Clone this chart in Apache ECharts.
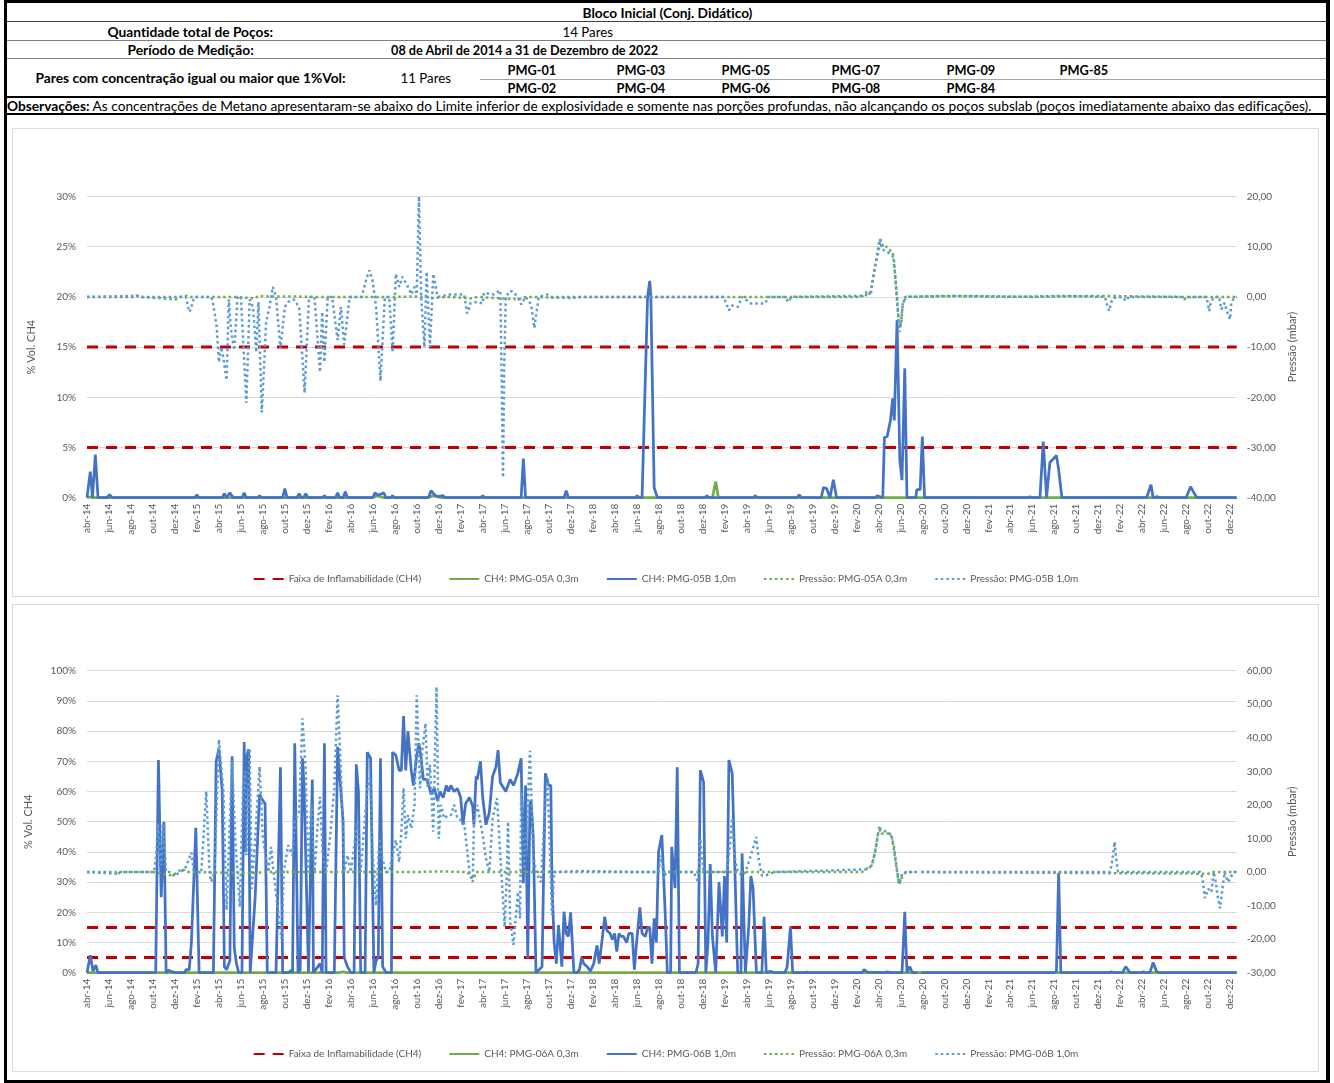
<!DOCTYPE html>
<html><head><meta charset="utf-8">
<script src="https://cdn.jsdelivr.net/npm/echarts@6/dist/echarts.min.js"></script>
<style>
html,body{margin:0;padding:0;background:#fff;}
body{position:relative;width:1334px;height:1083px;overflow:hidden;font-family:Lato,"Liberation Sans",sans-serif;}
.frame{position:absolute;left:4px;top:0;width:1326px;height:1083px;border:3px solid #000;border-right-width:4px;box-sizing:border-box;}
.t{position:absolute;white-space:nowrap;font-size:13px;line-height:16px;color:#000;transform-origin:50% 50%;font-variant-ligatures:none;}
.hl{position:absolute;height:0;}
.box{position:absolute;border:1px solid #d9d9d9;box-sizing:border-box;background:#fff;}
</style>
</head><body>
<div class="frame"></div>
<div class="hl" style="left:7px;width:1319px;top:21px;border-top:1px solid #404040"></div>
<div class="hl" style="left:7px;width:1319px;top:40px;border-top:1px solid #808080"></div>
<div class="hl" style="left:7px;width:1319px;top:58px;border-top:1px solid #808080"></div>
<div class="hl" style="left:480px;width:846px;top:79px;border-top:1px solid #a6a6a6"></div>
<div class="hl" style="left:7px;width:1319px;top:96px;border-top:2px solid #000"></div>
<div class="hl" style="left:7px;width:1319px;top:113px;border-top:2px solid #000"></div>
<div id="c1" class="box" style="left:12px;top:128px;width:1307px;height:469px"></div>
<div id="c2" class="box" style="left:12px;top:604px;width:1307px;height:468px"></div>
<script>
// ---------- header texts ----------
const headerItems = [
  {t:'Bloco Inicial (Conj. Didático)', cx:667, cy:13, w:170, b:true},
  {t:'Quantidade total de Poços:', cx:190, cy:31.5, w:166, b:true},
  {t:'14 Pares', cx:587, cy:31.5, w:50, b:false},
  {t:'Período de Medição:', cx:190, cy:49.5, w:126, b:true},
  {t:'08 de Abril de 2014 a 31 de Dezembro de 2022', cx:524.5, cy:49.5, w:267, b:true},
  {t:'Pares com concentração igual ou maior que 1%Vol:', cx:190, cy:78, w:310, b:true},
  {t:'11 Pares', cx:425, cy:78, w:50, b:false},
  {t:'PMG-01', cx:532, cy:70, w:49, b:true},
  {t:'PMG-03', cx:641, cy:70, w:49, b:true},
  {t:'PMG-05', cx:746, cy:70, w:49, b:true},
  {t:'PMG-07', cx:856, cy:70, w:49, b:true},
  {t:'PMG-09', cx:971, cy:70, w:49, b:true},
  {t:'PMG-85', cx:1084, cy:70, w:49, b:true},
  {t:'PMG-02', cx:532, cy:88, w:49, b:true},
  {t:'PMG-04', cx:641, cy:88, w:49, b:true},
  {t:'PMG-06', cx:746, cy:88, w:49, b:true},
  {t:'PMG-08', cx:856, cy:88, w:49, b:true},
  {t:'PMG-84', cx:971, cy:88, w:49, b:true}
];
const obsLabel = 'Observações:';
const obsText = ' As concentrações de Metano apresentaram-se abaixo do Limite inferior de explosividade e somente nas porções profundas, não alcançando os poços subslab (poços imediatamente abaixo das edificações).';

function place(el, cx, cy, w, leftAlign){
  document.body.appendChild(el);
  const w0 = el.offsetWidth, h0 = el.offsetHeight;
  const s = w / w0;
  el.style.top = (cy - h0/2) + 'px';
  if (leftAlign){ el.style.left = cx + 'px'; el.style.transformOrigin = '0 50%'; }
  else { el.style.left = (cx - w0/2) + 'px'; }
  el.style.transform = 'scaleX(' + s + ')';
}
headerItems.forEach(o => {
  const el = document.createElement('div');
  el.className = 't';
  el.textContent = o.t;
  el.style.fontWeight = o.b ? '700' : '400';
  place(el, o.cx, o.cy, o.w, false);
});
(function(){
  const el = document.createElement('div');
  el.className = 't';
  const b = document.createElement('b'); b.textContent = obsLabel;
  el.appendChild(b);
  el.appendChild(document.createTextNode(obsText));
  place(el, 7, 106, 1305, true);
})();

// ---------- chart data ----------
const tickLabels = ['abr-14','jun-14','ago-14','out-14','dez-14',
 'fev-15','abr-15','jun-15','ago-15','out-15','dez-15',
 'fev-16','abr-16','jun-16','ago-16','out-16','dez-16',
 'fev-17','abr-17','jun-17','ago-17','out-17','dez-17',
 'fev-18','abr-18','jun-18','ago-18','out-18','dez-18',
 'fev-19','abr-19','jun-19','ago-19','out-19','dez-19',
 'fev-20','abr-20','jun-20','ago-20','out-20','dez-20',
 'fev-21','abr-21','jun-21','ago-21','out-21','dez-21',
 'fev-22','abr-22','jun-22','ago-22','out-22','dez-22'];
// x = months since abr-2014
const flammabilityLimits = [5, 15];

// ---- Chart 1: PMG-05 ----
const ch4_05A = [[0,0],[0.3,0.1],[0.5,0],[26.0,0],[26.4,0.2],[27.0,0],[31.0,0],[31.5,0.2],[32.3,0],[56.9,0],[57.2,1.6],[57.45,0],[104.6,0]];
const ch4_05B = [[0,0],[0.3,2.6],[0.5,0],[0.76,4.3],[1.0,0],[1.8,0],[2.06,0.3],[2.3,0],
 [9.8,0],[10.0,0.3],[10.2,0],[12.3,0],[12.5,0.4],[12.7,0],[13.0,0.5],[13.3,0],
 [14.1,0],[14.3,0.5],[14.5,0],[15.5,0],[15.7,0.2],[15.9,0],[17.8,0],[18.0,0.9],[18.2,0],
 [19.1,0],[19.3,0.4],[19.5,0],[19.7,0],[19.9,0.4],[20.1,0],[21.4,0],[21.6,0.2],[21.8,0],
 [22.6,0],[22.8,0.5],[23.0,0],[23.3,0],[23.5,0.6],[23.7,0],[26.0,0],[26.2,0.5],[26.4,0.3],
 [26.6,0.3],[27.0,0.5],[27.2,0],[27.6,0],[27.8,0.2],[28.0,0],[30.9,0],[31.1,0.1],[31.3,0.7],
 [31.6,0.3],[31.9,0.1],[32.4,0.2],[32.6,0],[35.8,0],[36.0,0.2],[36.2,0],[39.5,0],[39.7,3.9],
 [39.9,0],[43.4,0],[43.6,0.7],[43.8,0],[49.9,0],[50.06,0.2],[50.2,0],[50.5,0],[51.0,20],
 [51.2,21.6],[51.3,20],[51.6,1],[51.9,0],[56.2,0],[56.4,0.2],[56.6,0],[60.6,0],[60.8,0.2],
 [61.0,0],[64.6,0],[64.8,0.3],[65.0,0],[66.8,0],[67.0,1.0],[67.3,0.9],[67.6,0],[67.9,1.8],
 [68.2,0],[71.7,0],[71.9,0.2],[72.4,0],[72.55,6.0],[72.8,6.1],[73.1,7.7],[73.3,9.9],
 [73.45,7.7],[73.7,17.7],[73.95,3.7],[74.15,1.75],[74.4,12.9],[74.6,0],[75.4,0],[75.5,0.8],
 [75.8,0.8],[76.0,6.1],[76.2,0],[85.6,0],[85.8,0.1],[86.0,0],[86.7,0],[87.0,5.6],[87.3,0],
 [87.6,3.5],[88.2,4.2],[88.4,2.8],[88.7,0],[96.4,0],[96.8,1.3],[97.0,0],[97.4,0.1],[97.6,0],
 [100.0,0],[100.4,1.1],[100.7,0.5],[100.8,0.6],[101.0,0],[104.6,0]];
const press_05A = [[0,0],[4.5,0.2],[5,0],[8.1,-0.5],[8.5,0],[8.9,0.3],[9.3,0],[13.5,0],
 [15.3,-0.3],[15.6,0.2],[16.4,0.1],[18.5,0.1],[20.5,0],[28,0],[30.3,0.1],[31.5,-0.2],[33,0],
 [34.9,-0.3],[35.5,0],[39.3,-0.5],[39.9,0],[44,-0.2],[45,0],[63.5,0],[63.8,-1],[64.1,0],
 [70.4,0.2],[71.0,0.4],[71.3,1.0],[71.7,6],[72.1,11.5],[72.5,9.8],[72.8,10.0],[73.1,9.2],
 [73.3,9],[73.5,5],[73.7,0],[73.85,-5],[74.0,-6],[74.2,-2],[74.4,0],[80,0.2],[86,0],[92,0.2],
 [99.5,0],[99.8,-0.5],[100.1,0],[104.6,0]];
const press_05B = [[0,0],[4.3,0],[4.5,0.3],[4.8,0],[9.0,0],[9.3,-3],[9.45,-2.5],[9.6,-1],[9.8,0],
 [11.3,0],[11.45,-1],[11.8,-6],[12.0,-13],[12.2,-10],[12.4,-12],[12.7,-16.6],[12.9,-0.5],
 [13.1,-6.5],[13.4,-10.6],[13.7,0],[14.0,0],[14.5,-21.1],[14.8,-0.5],[15.1,-2],[15.4,-11],
 [15.6,-1],[15.9,-23],[16.3,-5],[16.6,-2],[16.9,2],[17.2,0],[17.6,-10.3],[18.0,-2],[18.3,-1],
 [18.8,-0.5],[19.3,-2],[19.8,-19.1],[20.2,0],[20.7,0],[21.2,-15],[21.4,-3],[21.6,-13],[21.9,0],
 [22.3,0],[22.8,-8.6],[23.1,-2],[23.4,-9.5],[23.9,0],[25.0,0],[25.4,3.5],[25.7,5.3],[26.0,3],
 [26.3,-2],[26.7,-16.7],[27.1,0],[27.5,0],[27.8,-11],[28.1,4.6],[28.4,2],[28.7,4],[29.2,2],
 [29.5,0.5],[29.8,2],[30.0,0.5],[30.2,20],[30.4,0],[30.7,-10],[30.9,5],[31.2,-10],[31.5,4.6],
 [31.9,0],[33.1,0.5],[34.3,0.5],[34.6,-3.3],[34.9,-1.2],[35.5,-1],[36.0,-1.3],[36.1,0.8],
 [37.0,0.5],[37.6,1.3],[37.75,-20],[37.85,-36],[37.95,-15],[38.1,0],[38.5,1.2],[38.8,1],
 [39.3,-0.5],[39.5,-1.5],[39.9,0],[40.4,-1.5],[40.7,-6.2],[40.9,-3],[41.1,0],[41.9,0.5],
 [42.2,0],[57.9,0],[58.2,-1.5],[58.4,-2.7],[58.7,-1.7],[59.2,-2],[59.6,0],[60.1,-0.8],
 [60.4,-1.3],[61.7,-1.3],[62.0,0],[70.4,0],[70.7,0.3],[71.0,1.2],[71.3,0.3],[71.6,5],[72.0,9],
 [72.2,11.5],[72.3,9.5],[72.8,9],[73.1,8.5],[73.4,7.9],[73.5,5],[73.7,-1],[73.85,-5],[73.9,-7],
 [74.1,-5],[74.2,-1.5],[74.4,-0.5],[74.6,0],[78,0.2],[84,0],[89,0.2],[92.6,0],[92.8,-1.5],[93.0,-2.8],[93.2,-1],
 [93.4,-0.2],[94.2,0],[94.5,-0.8],[94.8,0],[101.7,0],[101.9,-0.5],[102.1,-2.8],[102.2,-1.5],
 [102.5,0],[103.0,0],[103.2,-2.5],[103.5,-1.2],[103.8,-3.5],[104.0,-4.5],[104.1,-1.3],
 [104.4,0],[104.6,0]];

// ---- Chart 2: PMG-06 ----
const ch4_06A = [[0,0],[23.0,0],[23.3,0.3],[23.6,0],[88.3,0],[88.4,0.2],[88.5,0],[104.6,0]];
const ch4_06B = [[0,0],[0.3,5.8],[0.55,0.5],[0.8,2.5],[1.0,0],[6.25,0],[6.5,70.4],[6.75,25],
 [7.0,50],[7.2,0],[7.4,0.8],[8.0,0],[8.9,0],[9.0,1],[9.3,1],[9.5,10],[9.9,48],[10.2,0],
 [11.5,0],[11.75,70],[12.0,74],[12.3,60],[12.5,2],[12.7,1],[13.0,4],[13.2,71.7],[13.4,8],
 [13.6,3],[13.8,0],[14.1,0],[14.3,76.4],[14.4,40],[14.5,71],[14.7,74],[14.85,0],[15.0,0],
 [15.3,25],[15.7,59],[16.0,57],[16.2,56],[16.4,0],[17.2,0],[17.6,68],[17.8,0],[18.3,0],
 [18.6,0.8],[18.7,0],[18.9,76],[19.2,0],[19.4,1],[19.6,71],[19.75,62],[19.9,62],[20.15,0],
 [20.3,0],[20.5,64],[20.6,0],[20.8,1],[21.2,3],[21.4,0],[21.6,76],[21.75,0],[22.5,0],
 [22.8,74.8],[23.3,50],[23.4,5],[23.7,2],[24.0,0],[24.3,0],[24.5,69],[24.7,60],[24.9,0],
 [25.3,0],[25.5,73],[25.8,71],[26.1,0],[26.3,4],[26.5,5],[26.7,71],[26.9,2],[27.2,0],
 [27.7,0],[27.8,73],[28.1,72],[28.4,67],[28.6,67],[28.8,85],[29.0,67],[29.2,80],[29.5,67],
 [29.7,62],[30.0,72],[30.2,76],[30.4,71],[30.6,64],[30.9,64],[31.1,62],[31.3,59],[31.6,61],
 [31.9,57],[32.1,60],[32.4,58],[32.7,62],[32.9,60],[33.1,62],[33.4,60],[33.7,61],[34.0,58],
 [34.2,49],[34.45,56],[34.8,58],[35.1,55],[35.2,49],[35.4,65],[35.5,64],[35.8,70],[36.0,58],
 [36.3,49],[36.6,53],[36.9,65],[37.2,68],[37.4,73.7],[37.6,63],[38.1,60],[38.5,64],[38.8,62],
 [39.2,66],[39.5,71],[39.7,29.6],[39.9,62],[40.1,4.7],[40.3,56],[40.4,57],[40.6,45],[40.85,0],
 [41.4,2],[41.7,66],[42.0,62],[42.2,62],[42.3,30],[42.5,10],[42.7,3],[42.9,15.8],[43.2,2],
 [43.4,20.2],[43.6,13],[43.8,12],[44.0,20],[44.3,0],[44.6,0],[44.8,1],[45.0,5],[45.2,3],
 [45.5,2],[45.8,0.5],[46.1,3],[46.3,7],[46.4,9],[46.6,3],[46.9,12],[47.1,18.5],[47.3,14],
 [47.6,13],[47.8,11],[48.0,13],[48.2,7],[48.4,13],[48.6,12],[48.8,12],[49.1,10],[49.3,13],
 [49.6,13],[49.8,1],[50.0,10],[50.3,21.6],[50.5,13],[50.8,12],[51.0,15],[51.2,15],[51.4,3],
 [51.6,18],[51.8,10],[52.0,40],[52.3,45.6],[52.6,20],[52.8,0],[53.1,0],[53.2,41.7],[53.5,28],
 [53.7,68],[53.9,0],[55.4,0],[55.6,3],[55.8,67],[56.1,63],[56.3,0],[56.5,10],[56.7,36],
 [56.9,12],[57.2,0],[57.5,30],[57.8,12],[58.0,32],[58.2,10],[58.4,70.4],[58.7,66],[58.9,40],
 [59.2,0],[59.5,0],[59.6,39.5],[59.9,0],[60.0,0],[60.2,15],[60.4,32],[60.6,28],[60.9,0],
 [61.4,0],[61.6,18.5],[61.8,0],[62.2,0.5],[62.5,0],[63.5,0],[63.7,2],[64.0,15.2],[64.2,0],
 [65.3,0],[65.5,0.2],[65.7,0],[70.5,0],[70.7,1],[71.0,0.2],[72.6,0],[72.8,0.3],[73.1,0],
 [74.15,0],[74.4,20.2],[74.6,0],[74.85,2],[75.1,0],[75.55,0],[75.7,'-'],[75.9,0],[88.0,0],
 [88.2,0.5],[88.4,33.1],[88.6,0],[93.0,0],[93.2,0.3],[93.4,0],[94.2,0],[94.5,2],[94.9,0],
 [95.9,0],[96.1,0.3],[96.3,0],[96.7,0],[97.0,3.4],[97.3,0.5],[97.5,0],[104.6,0]];
const press_06A = [[0,0],[2.7,-0.5],[3.0,0],[6,0],[7.8,-1],[8.2,0],[8.7,1],[9.0,0],[15.5,-0.3],
 [16,0],[30,0],[32,0.2],[34.6,0],[34.9,-1.5],[35.2,-2],[35.4,0],[45,0],[70.5,0],[70.7,0.5],
 [71.4,2],[71.7,6],[72.1,13.8],[72.3,11.5],[72.6,11.5],[73.1,11.5],[73.4,8],[73.7,0.5],
 [73.9,-3.5],[74.15,-1.5],[74.5,0],[75.5,0],[75.7,'-'],[75.9,0],[102.0,-0.5],[102.5,0],[104.6,0]];
const press_06B = [[0,0],[2.6,0],[2.8,-0.8],[3.0,0],[6.1,0],[6.3,5],[6.45,14.5],[6.6,8],[6.75,2],
 [6.9,14.5],[7.2,0],[7.5,0],[8.0,-1.3],[8.4,0],[8.9,0.8],[9.5,5.8],[9.7,0.5],[9.9,0],[10.4,0],
 [10.85,24],[11.15,0],[11.3,-2.9],[11.6,0],[12.0,39.5],[12.4,24.4],[12.7,-11.3],[13.0,15.5],
 [13.2,33],[13.5,9],[13.9,-10.3],[14.2,25.4],[14.4,30],[14.5,5],[14.8,36.8],[15.0,-5],
 [15.3,10],[15.7,31.4],[16.0,10],[16.5,0],[16.75,7.5],[16.9,2],[17.2,-6.4],[17.7,-19.8],
 [17.9,0],[18.3,8],[18.7,5],[18.9,15],[19.3,18],[19.6,45.8],[19.9,30],[20.1,0],[20.4,20],
 [20.7,0],[21.0,15],[21.2,22.4],[21.45,5],[21.75,0],[22.1,10],[22.5,25],[22.8,52.7],[23.1,30],
 [23.4,0],[23.7,5],[24.0,0],[24.6,15],[24.9,0],[25.5,25],[25.75,28],[26.0,5],[26.3,-10],
 [26.6,10],[26.8,5],[27.2,0],[27.5,0],[27.8,5],[28.1,9.5],[28.4,3],[28.6,12],[28.8,25],
 [29.0,10],[29.2,17],[29.5,13],[29.8,20],[30.0,52.7],[30.3,25],[30.5,36],[30.8,44.3],[31.0,25],
 [31.2,32],[31.5,12],[31.8,55.2],[32.0,10],[32.2,20],[32.5,16],[32.9,17],[33.1,17],[33.4,20],
 [33.7,16],[34.3,15],[34.8,0],[35.1,-3],[35.2,15],[35.5,20],[36.0,11],[36.3,4],[36.6,0],
 [36.9,16],[37.3,22],[37.6,5],[38.0,-16.3],[38.2,0],[38.3,15],[38.5,-15],[38.8,-21.7],
 [39.2,-6],[39.4,-13.8],[39.5,24],[39.8,0],[40.1,20],[40.3,36.1],[40.6,5],[40.85,0],[41.3,-3],
 [41.6,15],[41.9,28],[42.1,8],[42.3,-12.8],[42.5,0],[45,0.3],[50,0],[52.0,0],[52.2,5],
 [52.5,-2],[52.7,0],[55.2,0],[55.6,-3],[55.8,10],[56.1,0],[58.2,0],[58.4,5],[58.7,16],
 [58.9,5],[59.2,0],[59.6,-1],[59.9,0],[60.4,5],[60.9,10.5],[61.1,4],[61.4,-1],[61.8,-1],
 [62.5,0],[71.0,0.8],[71.4,2],[71.7,6],[72.0,12],[72.2,12.5],[72.8,12],[73.2,11],[73.45,6],
 [73.7,0],[73.85,-3.5],[74.0,-2.5],[74.15,-0.5],[74.5,0],[75.5,0],[75.7,'-'],[75.9,0],[93.1,0],
 [93.3,4],[93.5,9],[93.6,5],[93.8,0],[101.3,0],[101.5,-2],[101.7,-7.8],[102.0,-5],[102.3,-6],
 [102.5,0],[102.7,-3],[102.9,-8],[103.1,-10.8],[103.3,-5],[103.5,0],[103.8,-3],[104.0,-2],
 [104.3,0],[104.6,0]];

// ---------- chart building ----------
const FONT = 'Lato, "Liberation Sans", sans-serif';
const GREY = '#595959';
const X_MIN = 0, X_MAX = 104.6;

function flammabilityData(){
  const d = [];
  flammabilityLimits.forEach(v => { d.push([X_MIN, v], [X_MAX, v], [X_MAX, '-']); });
  return d;
}
function xLabel(v){
  const r = Math.round(v);
  if (Math.abs(v - r) > 1e-6 || r % 2 !== 0) return '';
  return tickLabels[r / 2] || '';
}
function fmtP(v){ return v.toFixed(2).replace('.', ','); }

function makeOption(cfg){
  const names = ['Faixa de Inflamabilidade (CH4)', cfg.n1, cfg.n2, cfg.n3, cfg.n4];
  const dotted = { type:[2.5, 3.0], width:2.5, cap:'butt' };
  return {
    animation:false,
    textStyle:{ fontFamily:FONT, color:GREY },
    grid:{ left:74, top:cfg.gridTop, width:1149.7, height:cfg.gridH, containLabel:false },
    legend:{
      data:names, top:cfg.legendTop, left:'center', itemWidth:30, itemHeight:12, itemGap:27,
      textStyle:{ fontFamily:FONT, fontSize:10, color:GREY },
      itemStyle:{ opacity:0, borderWidth:0 }
    },
    xAxis:{
      type:'value', min:X_MIN, max:X_MAX, interval:2,
      axisLine:{ show:true, lineStyle:{ color:'#d9d9d9' } }, axisTick:{ show:false }, splitLine:{ show:false },
      axisLabel:{ rotate:90, formatter:xLabel, fontSize:10, color:GREY, fontFamily:FONT, margin:6,
                  showMaxLabel:false, showMinLabel:true, hideOverlap:false }
    },
    yAxis:[
      { type:'value', min:0, max:cfg.yMax, interval:cfg.yInt, position:'left',
        name:'% Vol. CH4', nameLocation:'middle', nameGap:cfg.nameGapL, nameRotate:90,
        nameTextStyle:{ fontSize:11, color:GREY, fontFamily:FONT },
        axisLine:{ show:false }, axisTick:{ show:false },
        splitLine:{ lineStyle:{ color:'#d9d9d9', width:1 } },
        axisLabel:{ formatter:v => v + '%', fontSize:10, color:GREY, fontFamily:FONT, margin:11 } },
      { type:'value', min:cfg.pMin, max:cfg.pMax, interval:10, position:'right',
        name:'Pressão (mbar)', nameLocation:'middle', nameGap:40, nameRotate:90,
        nameTextStyle:{ fontSize:11, color:GREY, fontFamily:FONT },
        axisLine:{ show:false }, axisTick:{ show:false }, splitLine:{ show:false },
        axisLabel:{ formatter:fmtP, fontSize:10, color:GREY, fontFamily:FONT, margin:10 } }
    ],
    series:[
      { name:names[0], type:'line', yAxisIndex:0, data:flammabilityData(), symbol:'none', connectNulls:false,
        lineStyle:{ color:'#c00000', width:3, type:[11, 8], cap:'butt' }, itemStyle:{ color:'#c00000' }, silent:true },
      { name:names[1], type:'line', yAxisIndex:0, data:cfg.s1, symbol:'none',
        lineStyle:{ color:'#70ad47', width:2.75 }, itemStyle:{ color:'#70ad47' } },
      { name:names[2], type:'line', yAxisIndex:0, data:cfg.s2, symbol:'none', connectNulls:false,
        lineStyle:{ color:'#4472c4', width:2.75 }, itemStyle:{ color:'#4472c4' } },
      { name:names[3], type:'line', yAxisIndex:1, data:cfg.s3, symbol:'none', connectNulls:false,
        lineStyle:Object.assign({ color:'#70ad47' }, dotted), itemStyle:{ color:'#70ad47' } },
      { name:names[4], type:'line', yAxisIndex:1, data:cfg.s4, symbol:'none', connectNulls:false,
        lineStyle:Object.assign({ color:'#5b9bd5' }, dotted), itemStyle:{ color:'#5b9bd5' } }
    ]
  };
}

const chart1 = echarts.init(document.getElementById('c1'), null, { renderer:'canvas' });
chart1.setOption(makeOption({
  n1:'CH4: PMG-05A 0,3m', n2:'CH4: PMG-05B 1,0m', n3:'Pressão: PMG-05A 0,3m', n4:'Pressão: PMG-05B 1,0m',
  s1:ch4_05A, s2:ch4_05B, s3:press_05A, s4:press_05B,
  gridTop:67.5, gridH:301.2, legendTop:440, yMax:30, yInt:5, pMin:-40, pMax:20, nameGapL:50
}));
const chart2 = echarts.init(document.getElementById('c2'), null, { renderer:'canvas' });
chart2.setOption(makeOption({
  n1:'CH4: PMG-06A 0,3m', n2:'CH4: PMG-06B 1,0m', n3:'Pressão: PMG-06A 0,3m', n4:'Pressão: PMG-06B 1,0m',
  s1:ch4_06A, s2:ch4_06B, s3:press_06A, s4:press_06B,
  gridTop:65.7, gridH:302, legendTop:439, yMax:100, yInt:10, pMin:-30, pMax:60, nameGapL:53
}));
</script>
</body></html>
